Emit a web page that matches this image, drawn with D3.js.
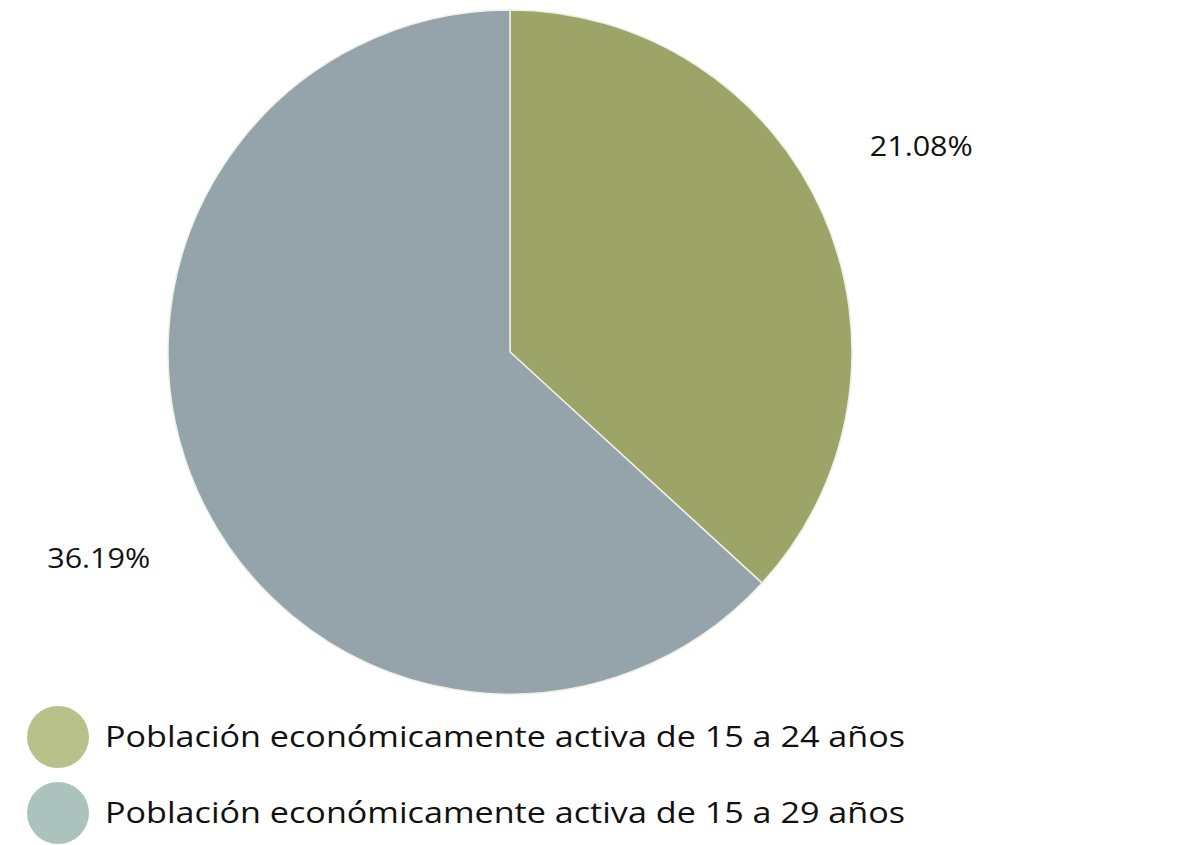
<!DOCTYPE html>
<html>
<head>
<meta charset="utf-8">
<script src="https://cdn.jsdelivr.net/npm/d3@7"></script>
<style>
  body { margin: 0; background: #fff; }
  text { font-family: "Open Sans", "Noto Sans", sans-serif; font-weight: 400; fill: #111; }
</style>
</head>
<body>
<div class="main"></div>
<script>
const categories = ["Población económicamente activa de 15 a 24 años", "Población económicamente activa de 15 a 29 años"];
const values = [21.08, 36.19];
const valueLabels = ["21.08%", "36.19%"];
const sliceColors = ["#9ca567", "#95a3aa"];
const legendColors = ["#b9c18b", "#abc2bd"];

const width = 1187, height = 845;
const cx = 510, cy = 352, radius = 342;

const svg = d3.select(".main").append("svg")
    .attr("width", width)
    .attr("height", height);

const data = categories.map((c, i) => ({ name: c, value: values[i], label: valueLabels[i], color: sliceColors[i] }));

const pie = d3.pie()
    .sort(null)
    .value(d => d.value);

const arc = d3.arc()
    .innerRadius(0)
    .outerRadius(radius);

// labels sit a bit outside the pie
const labelArc = d3.arc()
    .innerRadius(460)
    .outerRadius(460);

const g = svg.append("g")
    .attr("transform", "translate(" + cx + "," + cy + ")");

const slices = pie(data);

g.selectAll("path")
    .data(slices)
    .enter().append("path")
    .attr("d", arc)
    .attr("fill", d => d.data.color)
    .attr("stroke", "#eef0e6")
    .attr("stroke-width", 1.5);

g.selectAll("text.lbl")
    .data(slices)
    .enter().append("text")
    .attr("class", "lbl")
    .attr("transform", d => {
        // pull the label slightly back toward the top, like the original
        const a = (d.startAngle + d.endAngle) / 2 - 0.05;
        return "translate(" + (460 * Math.sin(a)) + "," + (-460 * Math.cos(a)) + ")";
    })
    .attr("text-anchor", "middle")
    .attr("dy", "0.35em")
    .style("font-size", "28px")
    .attr("textLength", 103)
    .attr("lengthAdjust", "spacingAndGlyphs")
    .text(d => d.data.label);

// legend
const legend = svg.append("g")
    .selectAll("g")
    .data(data)
    .enter().append("g")
    .attr("transform", (d, i) => "translate(58," + (737 + i * 76) + ")");

legend.append("circle")
    .attr("r", 31)
    .attr("fill", (d, i) => legendColors[i]);

legend.append("text")
    .attr("x", 47)
    .attr("dy", "0.35em")
    .style("font-size", "29px")
    .attr("textLength", 800)
    .attr("lengthAdjust", "spacingAndGlyphs")
    .text(d => d.name);
</script>
</body>
</html>
